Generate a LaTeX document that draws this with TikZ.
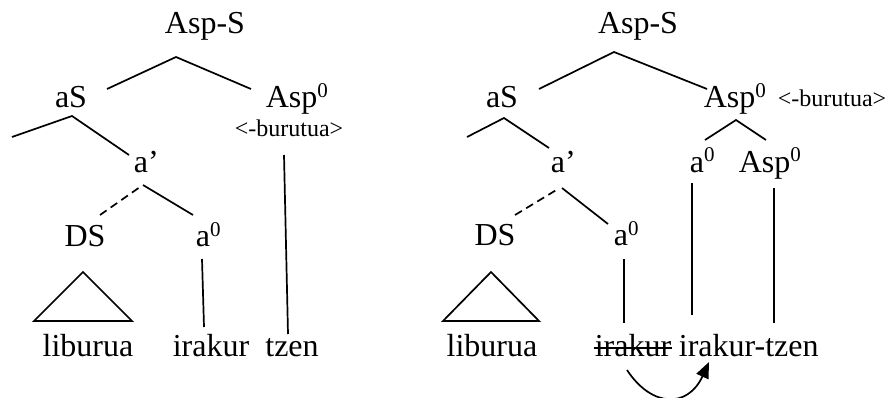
\documentclass[tikz,border=0pt]{standalone}
\usepackage{fontspec}
\setmainfont{Liberation Serif}
\usetikzlibrary{arrows.meta}
% exposant des tetes
\newcommand\expo[1]{\raisebox{10pt}{\fontsize{21}{22}\selectfont #1}}
\begin{document}
\begin{tikzpicture}[x=1pt,y=-1pt,line width=1.7pt,
	mot/.style={inner sep=0pt,font=\fontsize{32}{36}\selectfont,anchor=base},
	petit/.style={inner sep=0pt,font=\fontsize{24}{26}\selectfont,anchor=base},
	trace/.style={dash pattern=on 8pt off 5pt}]
	\useasboundingbox (0,0) rectangle (885,398);
	%
	% Arbre de gauche : etiquettes
	\node[mot] (lAspS) at (205,34) {Asp-S};
	\node[mot] (laS) at (71,108) {aS};
	\node[mot,anchor=base west] (lAsp) at (265,108) {Asp\expo{0}};
	\node[petit] (lburu) at (289,137) {<-burutua>};
	\node[mot,anchor=base west] (labar) at (133,172) {a’};
	\node[mot] (lDS) at (85,246) {DS};
	\node[mot,anchor=base west] (la) at (195,246) {a\expo{0}};
	\node[mot] (llib) at (88,356) {liburua};
	\node[mot] (lirak) at (211,356) {irakur};
	\node[mot] (ltzen) at (292,356) {tzen};
	%
	% Arbre de droite : etiquettes
	\node[mot] (rAspS) at (638,34) {Asp-S};
	\node[mot] (raS) at (502,108) {aS};
	\node[mot,anchor=base west] (rAsp) at (703,108) {Asp\expo{0}};
	\node[petit,anchor=base west] (rburu) at (777,107) {<-burutua>};
	\node[mot,anchor=base west] (rabar) at (550,172) {a’};
	\node[mot,anchor=base west] (raup) at (689,172) {a\expo{0}};
	\node[mot,anchor=base west] (rAspb) at (738,172) {Asp\expo{0}};
	\node[mot] (rDS) at (495,245) {DS};
	\node[mot,anchor=base west] (ra) at (613,245) {a\expo{0}};
	\node[mot] (rlib) at (492,356) {liburua};
	\node[mot] (rirak) at (633,356) {irakur};
	\node[mot,anchor=base west] (rirtz) at (678,356) {irakur-tzen};
	%
	% Points des branches
	\foreach \nom/\x/\y in {lA/176/57, lAg/107/89, lAd/251/89,
		lB/72/116, lBg/12/137, lBd/129/155,
		lC/140/187, lCc/143/185, lCg/100/215, lCd/193/215,
		lDh/202/259, lDb/204/327, lEh/284/155, lEb/288/334,
		lT/83/272, lTg/34/321, lTd/132/321,
		rA/614/52, rAg/539/89, rAd/707/89,
		rB/504/118, rBg/467/137, rBd/549/148,
		rC/558/189, rCc/562/188, rCg/515/215, rCd/608/224,
		rF/736/120, rFg/705/140, rFd/766/140,
		rGh/692/183, rGb/692/315, rHh/774/188, rHb/774/323,
		rDh/624/259, rDb/624/323,
		rT/491/272, rTg/443/321, rTd/539/321,
		rMa/627/370, rMb/709/362}
		{\coordinate (\nom) at (\x,\y);}
	%
	% Branches de gauche
	\draw (lAg) -- (lA) -- (lAd);
	\draw (lBg) -- (lB) -- (lBd);
	\draw[trace] (lCg) -- (lC);
	\draw (lCc) -- (lCd);
	\draw (lDh) -- (lDb);
	\draw (lEh) -- (lEb);
	\draw (lT) -- (lTg) -- (lTd) -- cycle;
	%
	% Branches de droite
	\draw (rAg) -- (rA) -- (rAd);
	\draw (rBg) -- (rB) -- (rBd);
	\draw[trace] (rCg) -- (rC);
	\draw (rCc) -- (rCd);
	\draw (rFg) -- (rF) -- (rFd);
	\draw (rGh) -- (rGb);
	\draw (rHh) -- (rHb);
	\draw (rDh) -- (rDb);
	\draw (rT) -- (rTg) -- (rTd) -- cycle;
	%
	% Copie barree et mouvement
	\draw ([yshift=8pt]rirak.base west) -- ([yshift=8pt]rirak.base east);
	\draw[->,>={Triangle[length=16pt,width=13pt]}] (rMa) .. controls (652,408) and (688,408) .. (rMb);
\end{tikzpicture}
\end{document}
